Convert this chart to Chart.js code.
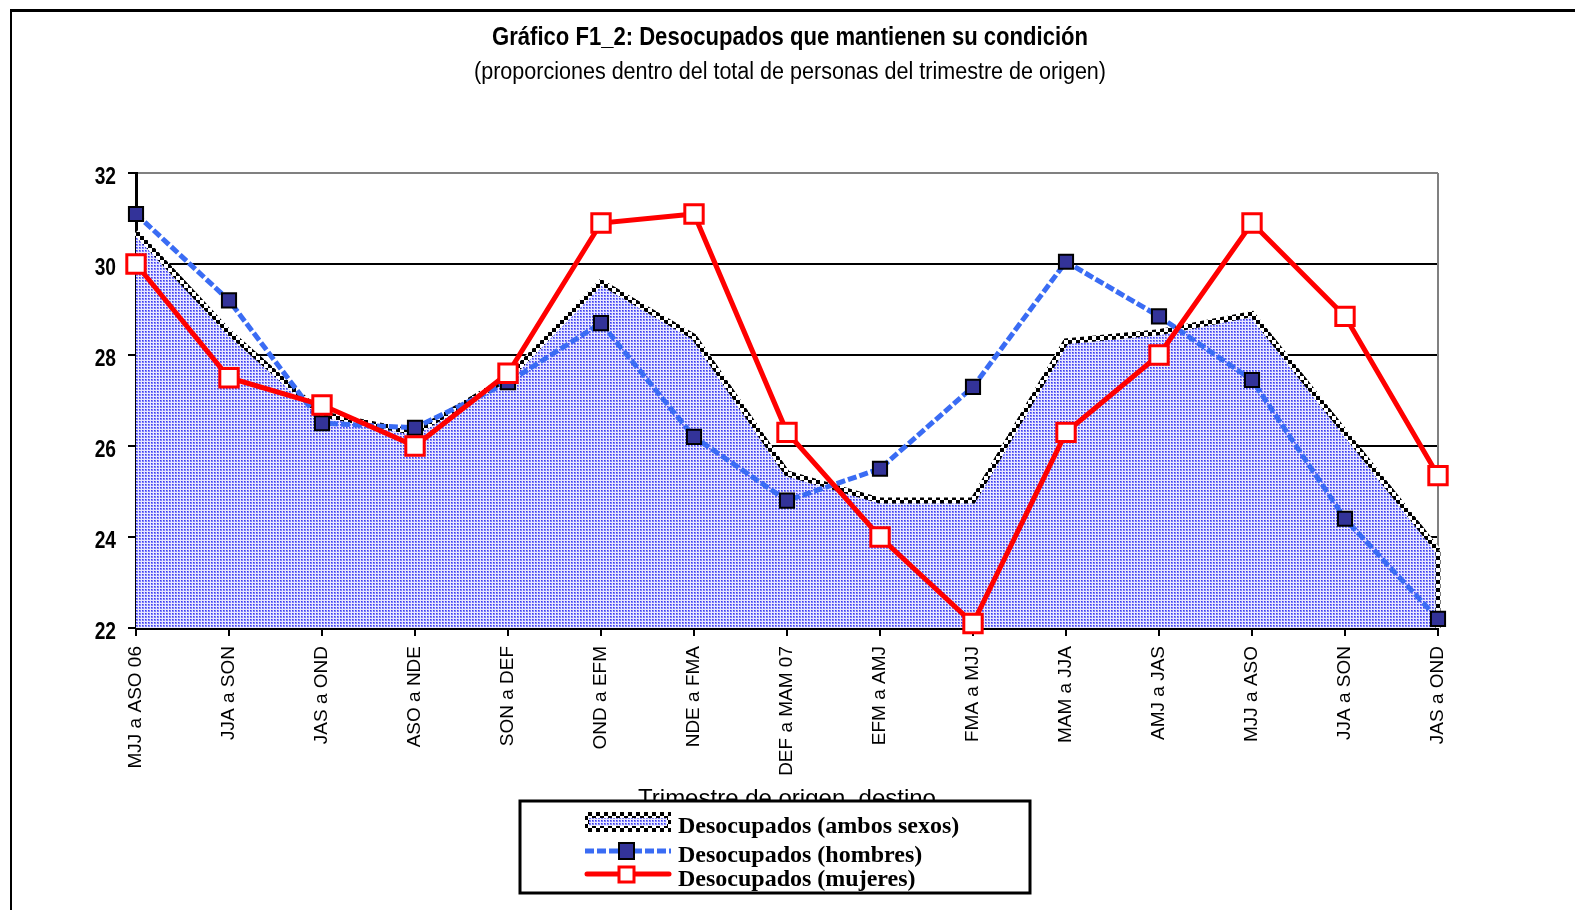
<!DOCTYPE html>
<html>
<head>
<meta charset="utf-8">
<script src="https://cdn.jsdelivr.net/npm/chart.js@4.4.1/dist/chart.umd.min.js"></script>
<style>
  body { margin: 0; background: #fff; }
  #wrap { position: relative; width: 1575px; height: 910px; }
</style>
</head>
<body>
<div id="wrap"><canvas id="grafico" width="1575" height="910"></canvas></div>
<script>
// datos del gráfico
const trimestres = [
  "MJJ a ASO 06", "JJA a SON", "JAS a OND", "ASO a NDE", "SON a DEF",
  "OND a EFM", "NDE a FMA", "DEF a MAM 07", "EFM a AMJ", "FMA a MJJ",
  "MAM a JJA", "AMJ a JAS", "MJJ a ASO", "JJA a SON", "JAS a OND"
];
const ambosSexos = [30.7, 28.5, 26.7, 26.3, 27.5, 29.6, 28.4, 25.4, 24.8, 24.8, 28.3, 28.5, 28.9, 26.3, 23.7];
const hombres = [31.1, 29.2, 26.5, 26.4, 27.4, 28.7, 26.2, 24.8, 25.5, 27.3, 30.05, 28.85, 27.45, 24.4, 22.2];
const mujeres = [30.0, 27.5, 26.9, 26.0, 27.6, 30.9, 31.1, 26.3, 24.0, 22.1, 26.3, 28.0, 30.9, 28.85, 25.35];
const ejeY = [22, 24, 26, 28, 30, 32];

const sans = "'Liberation Sans', Arial, sans-serif";

// patrón de puntos azules (relleno del área)
function patronPuntos() {
  const c = document.createElement("canvas");
  c.width = 3;
  c.height = 3;
  const x = c.getContext("2d");
  x.fillStyle = "#e8e8ff";
  x.fillRect(0, 0, 3, 3);
  x.fillStyle = "#8080f8";
  x.fillRect(1, 1, 2, 2);
  x.fillStyle = "#3a3af0";
  x.fillRect(1, 1, 1, 1);
  return x.createPattern(c, "repeat");
}

// patrón tipo damero para el borde del área
function patronDamero() {
  const c = document.createElement("canvas");
  c.width = 8;
  c.height = 8;
  const x = c.getContext("2d");
  x.fillStyle = "#fff";
  x.fillRect(0, 0, 8, 8);
  x.fillStyle = "#000";
  x.fillRect(0, 0, 4, 4);
  x.fillRect(4, 4, 4, 4);
  return x.createPattern(c, "repeat");
}

const relleno = patronPuntos();
const damero = patronDamero();

// texto comprimido horizontalmente (la fuente original es angosta)
function textoAngosto(ctx, texto, x, y, escala) {
  ctx.save();
  ctx.translate(x, y);
  ctx.scale(escala, 1);
  ctx.fillText(texto, 0, 0);
  ctx.restore();
}

const decoracion = {
  id: "decoracion",
  beforeDraw(chart) {
    const ctx = chart.ctx;
    ctx.save();
    ctx.fillStyle = "#fff";
    ctx.fillRect(0, 0, chart.width, chart.height);
    // marco exterior
    ctx.strokeStyle = "#000";
    ctx.lineWidth = 3;
    ctx.beginPath();
    ctx.moveTo(10, 10.5);
    ctx.lineTo(chart.width, 10.5);
    ctx.stroke();
    ctx.lineWidth = 2;
    ctx.beginPath();
    ctx.moveTo(11, 10);
    ctx.lineTo(11, chart.height);
    ctx.stroke();

    // títulos
    ctx.fillStyle = "#000";
    ctx.textAlign = "center";
    ctx.textBaseline = "middle";
    let t = "Gráfico F1_2: Desocupados que mantienen su condición";
    ctx.font = "bold 25px " + sans;
    textoAngosto(ctx, t, 790, 38, 596 / ctx.measureText(t).width);
    t = "(proporciones dentro del total de personas del trimestre de origen)";
    ctx.font = "23px " + sans;
    textoAngosto(ctx, t, 790, 73, 632 / ctx.measureText(t).width);
    ctx.restore();
  },
  beforeDatasetsDraw(chart) {
    const ctx = chart.ctx;
    const a = chart.chartArea;
    ctx.save();
    ctx.strokeStyle = "#808080";
    ctx.lineWidth = 2;
    ctx.beginPath();
    ctx.moveTo(a.right, a.top);
    ctx.lineTo(a.right, a.bottom);
    ctx.stroke();
    ctx.restore();
  },
  afterDatasetDraw(chart, args) {
    // cierre derecho del área (ambos sexos)
    if (args.index !== 0) return;
    const ctx = chart.ctx;
    const a = chart.chartArea;
    const yTop = chart.scales.y.getPixelForValue(ambosSexos[ambosSexos.length - 1]);
    ctx.save();
    ctx.strokeStyle = damero;
    ctx.lineWidth = 5;
    ctx.beginPath();
    ctx.moveTo(a.right, yTop);
    ctx.lineTo(a.right, a.bottom);
    ctx.stroke();
    ctx.restore();
  },
  afterDraw(chart) {
    const ctx = chart.ctx;
    const a = chart.chartArea;
    const y = chart.scales.y;
    ctx.save();
    // etiquetas del eje y
    ctx.fillStyle = "#000";
    ctx.textAlign = "right";
    ctx.textBaseline = "middle";
    ctx.font = "bold 24px " + sans;
    y.ticks.forEach(tk => {
      textoAngosto(ctx, String(tk.value), a.left - 20, y.getPixelForValue(tk.value) + 4, 0.8);
    });

    // título del eje x
    ctx.textAlign = "center";
    ctx.font = "24px " + sans;
    ctx.fillText("Trimestre de origen_destino", (a.left + a.right) / 2, 799);

    // leyenda
    const lx = 520, ly = 801, lw = 510, lh = 92;
    ctx.fillStyle = "#fff";
    ctx.fillRect(lx, ly, lw, lh);
    ctx.strokeStyle = "#000";
    ctx.lineWidth = 3;
    ctx.strokeRect(lx, ly, lw, lh);

    // símbolo ambos sexos
    ctx.fillStyle = damero;
    ctx.fillRect(585, 812, 86, 20);
    ctx.fillStyle = relleno;
    ctx.fillRect(589, 818, 78, 8);

    // símbolo hombres
    ctx.strokeStyle = "#3a6cf4";
    ctx.lineWidth = 5;
    ctx.setLineDash([9, 3]);
    ctx.beginPath();
    ctx.moveTo(585, 851);
    ctx.lineTo(671, 851);
    ctx.stroke();
    ctx.setLineDash([]);
    ctx.fillStyle = "#333399";
    ctx.fillRect(619, 843, 15, 16);
    ctx.strokeStyle = "#000";
    ctx.lineWidth = 2;
    ctx.strokeRect(619, 843, 15, 16);

    // símbolo mujeres
    ctx.strokeStyle = "#ff0000";
    ctx.lineWidth = 5;
    ctx.lineCap = "round";
    ctx.beginPath();
    ctx.moveTo(587, 874);
    ctx.lineTo(669, 874);
    ctx.stroke();
    ctx.lineCap = "butt";
    ctx.fillStyle = "#fff";
    ctx.fillRect(619, 867, 15, 15);
    ctx.strokeStyle = "#ff0000";
    ctx.lineWidth = 3;
    ctx.strokeRect(619, 867, 15, 15);

    ctx.fillStyle = "#000";
    ctx.textAlign = "left";
    ctx.textBaseline = "alphabetic";
    ctx.font = "bold 24px 'Liberation Serif', 'Times New Roman', serif";
    ctx.fillText("Desocupados (ambos sexos)", 678, 833);
    ctx.fillText("Desocupados (hombres)", 678, 862);
    ctx.fillText("Desocupados (mujeres)", 678, 886);
    ctx.restore();
  }
};

new Chart(document.getElementById("grafico"), {
  type: "line",
  data: {
    labels: trimestres,
    datasets: [
      {
        label: "Desocupados (ambos sexos)",
        data: ambosSexos,
        order: 3,
        fill: "start",
        backgroundColor: relleno,
        borderColor: damero,
        borderWidth: 6,
        pointRadius: 0,
        tension: 0,
        clip: false
      },
      {
        label: "Desocupados (hombres)",
        data: hombres,
        order: 2,
        fill: false,
        borderColor: "#3a6cf4",
        borderWidth: 5,
        borderDash: [9, 3],
        pointStyle: "rect",
        pointRadius: 10,
        pointBackgroundColor: "#333399",
        pointBorderColor: "#000",
        pointBorderWidth: 2,
        tension: 0,
        clip: false
      },
      {
        label: "Desocupados (mujeres)",
        data: mujeres,
        order: 1,
        fill: false,
        borderColor: "#ff0000",
        borderWidth: 5,
        pointStyle: "rect",
        pointRadius: 13,
        pointBackgroundColor: "#fff",
        pointBorderColor: "#ff0000",
        pointBorderWidth: 3,
        tension: 0,
        clip: false
      }
    ]
  },
  options: {
    responsive: false,
    animation: false,
    devicePixelRatio: 1,
    layout: { padding: { top: 173, right: 137, bottom: 0, left: 0 } },
    plugins: {
      legend: { display: false },
      title: { display: false },
      tooltip: { enabled: false }
    },
    scales: {
      x: {
        offset: false,
        afterFit(scale) { scale.height = 282; },
        grid: {
          display: true,
          drawOnChartArea: false,
          drawTicks: true,
          tickLength: 8,
          color: "#000",
          lineWidth: 2
        },
        border: { display: true, color: "#000", width: 3, dash: [5, 2] },
        ticks: {
          autoSkip: false,
          minRotation: 90,
          maxRotation: 90,
          padding: 10,
          color: "#000",
          font: { family: sans, size: 19 }
        }
      },
      y: {
        min: ejeY[0],
        max: ejeY[ejeY.length - 1],
        afterFit(scale) { scale.width = 136; },
        afterBuildTicks(scale) { scale.ticks = ejeY.map(v => ({ value: v })); },
        grid: {
          color: c => (c.tick && c.tick.value === 32 ? "#808080" : "#000"),
          lineWidth: 2,
          drawTicks: true,
          tickLength: 8,
          tickColor: "#000"
        },
        border: { display: true, color: "#000", width: 3 },
        ticks: { display: false }
      }
    }
  },
  plugins: [decoracion]
});
</script>
</body>
</html>
